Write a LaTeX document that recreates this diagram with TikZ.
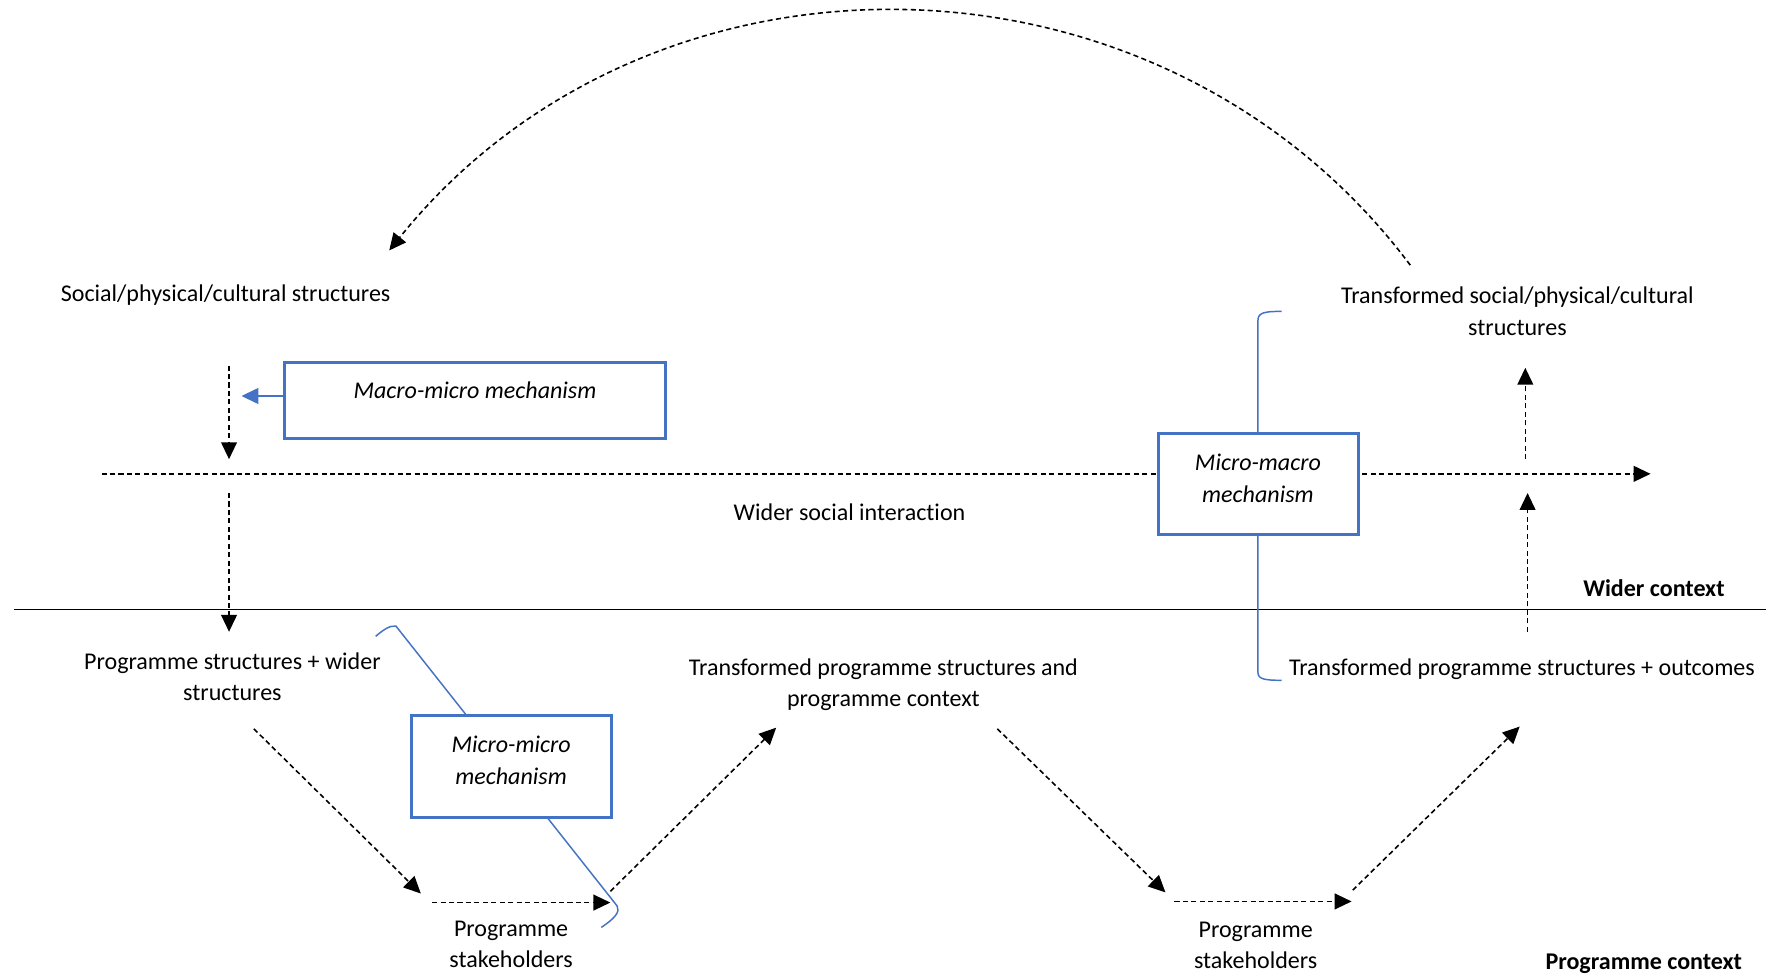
\documentclass[tikz,border=0pt]{standalone}
\usepackage{fontspec}
\setmainfont{Carlito}[RawFeature={-liga}]
\usetikzlibrary{arrows.meta}
\definecolor{mechblue}{HTML}{4472C4}
\newcommand{\dgfont}{\fontsize{21.3}{28}\selectfont}
\begin{document}
\begin{tikzpicture}[x=1pt,y=-1pt,
  txt/.style={font=\dgfont, align=center, inner sep=0pt},
  txtb/.style={font=\dgfont\bfseries, align=center, inner sep=0pt},
  txti/.style={font=\dgfont\itshape, align=center, inner sep=0pt},
  mbox/.style={draw=mechblue, line width=2.6pt, fill=white, inner sep=0pt},
  flow/.style={draw=black, line width=1.4pt, dash pattern=on 4.5pt off 3pt, -{Triangle[length=15pt,width=14pt]}},
  bracket/.style={draw=mechblue, line width=1.3pt},
  bluearrow/.style={draw=mechblue, line width=1.6pt, -{Triangle[length=15pt,width=14pt]}}
]
\useasboundingbox (0,0) rectangle (1568,868);
\fill[white] (0,0) rectangle (1568,868);

% ---------- text nodes ----------
\node[txt] (soc) at (200,262) {Social/physical/cultural structures};
\node[txt] (tsoc) at (1345,276) {Transformed social/physical/cultural\\structures};
\node[txt] (wsi) at (753,454) {Wider social interaction};
\node[txtb] (wc) at (1466,521) {Wider context};
\node[txt] (pswc) at (206,600) {Programme structures + wider\\structures};
\node[txt] (tpsp) at (783,607) {Transformed programme structures and\\programme context};
\node[txt] (tpso) at (1349,593) {Transformed programme structures + outcomes};
\node[txt] (ps1) at (453,837) {Programme\\stakeholders};
\node[txt] (ps2) at (1113,838) {Programme\\stakeholders};
\node[txtb] (pc) at (1457,854) {Programme context};

% ---------- separator ----------
\coordinate (sepL) at (12,540);
\coordinate (sepR) at (1565,540);
\draw[line width=1.3pt] (sepL) -- (sepR);

% ---------- top arc ----------
\coordinate (arcS) at (1250,235);
\coordinate (arcE) at (345,222);
\draw[flow] (arcS) .. controls (1029,-60) and (577,-66) .. (arcE);

% ---------- wider social interaction axis ----------
\coordinate (hs) at (90,420);
\coordinate (he) at (1463,420);
\draw[flow] (hs) -- (he);

% ---------- vertical arrows ----------
\coordinate (v1s) at (203,324); \coordinate (v1e) at (203,407);
\draw[flow] (v1s) -- (v1e);
\coordinate (v2s) at (203,437); \coordinate (v2e) at (203,560);
\draw[flow] (v2s) -- (v2e);
\coordinate (v3s) at (1354,560); \coordinate (v3e) at (1354,437);
\draw[flow] (v3s) -- (v3e);
\coordinate (v4s) at (1352,407); \coordinate (v4e) at (1352,326);
\draw[flow] (v4s) -- (v4e);

% ---------- programme context flows ----------
\coordinate (d1s) at (225,646); \coordinate (d1e) at (373,792);
\draw[flow] (d1s) -- (d1e);
\coordinate (h1s) at (383,800); \coordinate (h1e) at (541,800);
\draw[flow] (h1s) -- (h1e);
\coordinate (d2s) at (541,790); \coordinate (d2e) at (688,645);
\draw[flow] (d2s) -- (d2e);
\coordinate (d3s) at (884,646); \coordinate (d3e) at (1033,791);
\draw[flow] (d3s) -- (d3e);
\coordinate (h2s) at (1041,799); \coordinate (h2e) at (1198,799);
\draw[flow] (h2s) -- (h2e);
\coordinate (d4s) at (1199,789); \coordinate (d4e) at (1347,644);
\draw[flow] (d4s) -- (d4e);

% ---------- brackets ----------
\coordinate (brTop) at (1136,276);
\coordinate (brBot) at (1136,603);
\draw[bracket] (brTop) .. controls (1121,276) and (1115,277) .. (1115,284)
  -- (1115,596) .. controls (1115,602) and (1121,603) .. (brBot);
\coordinate (blTop) at (333,564);
\coordinate (blBot) at (533,822);
\draw[bracket] (blTop) .. controls (340,558) and (346,554) .. (351,555)
  -- (547,803) .. controls (550,808) and (545,814) .. (blBot);

% ---------- mechanism boxes ----------
\node[mbox, minimum width=338pt, minimum height=68pt] (Mmbox) at (421,355) {};
\node[txti] (Mmtext) at (421,346) {Macro-micro mechanism};
\node[mbox, minimum width=177pt, minimum height=90pt] (mMbox) at (1115.5,429) {};
\node[txti] (mMtext) at (1115,424) {Micro-macro\\mechanism};
\node[mbox, minimum width=177pt, minimum height=91pt] (mmbox) at (453.5,679.5) {};
\node[txti] (mmtext) at (453,674) {Micro-micro\\mechanism};

\coordinate (bluetip) at (214,351);
\draw[bluearrow] (Mmbox.west |- bluetip) -- (bluetip);
\end{tikzpicture}
\end{document}
